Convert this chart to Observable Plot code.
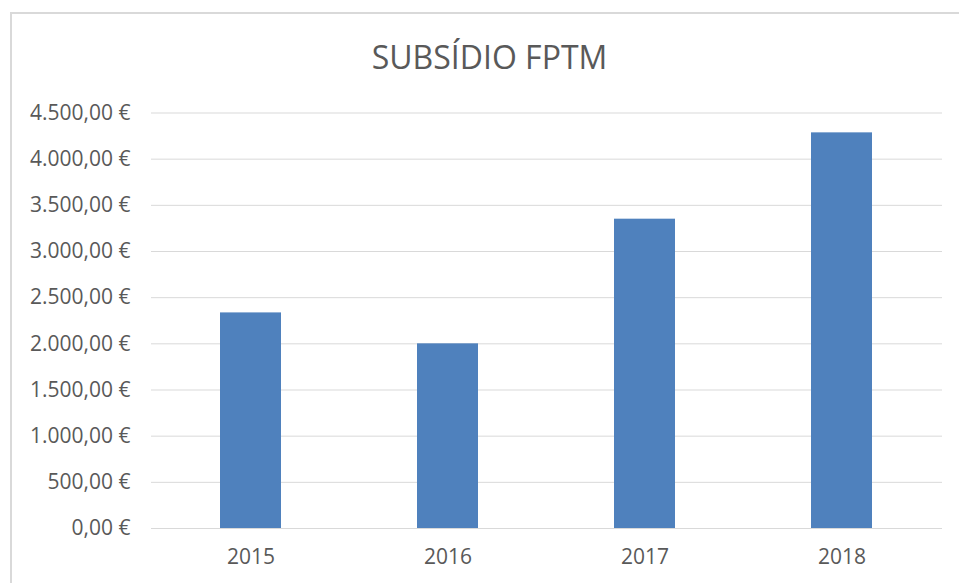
<!DOCTYPE html>
<html>
<head>
<meta charset="utf-8">
<script src="https://cdn.jsdelivr.net/npm/d3@7"></script>
<script src="https://cdn.jsdelivr.net/npm/@observablehq/plot@0.6"></script>
<style>
  html, body { margin: 0; padding: 0; background: #fff; }
  #wrap { position: relative; width: 959px; height: 583px; overflow: hidden; font-family: "Open Sans", sans-serif; }
  #frame { position: absolute; left: 10px; top: 12px; width: 1000px; height: 700px; border-left: 2px solid #d9d9d9; border-top: 2px solid #d9d9d9; box-sizing: border-box; }
  #title { position: relative; height: 95px; box-sizing: border-box; padding-top: 41px; padding-left: 20px; text-align: center; font-size: 32px; line-height: 32px; color: #595959; }
  #chart svg { display: block; }
</style>
</head>
<body>
<div id="wrap">
  <div id="frame"></div>
  <div id="title">SUBSÍDIO FPTM</div>
  <div id="chart"></div>
</div>
<script>
const years = ["2015", "2016", "2017", "2018"];
const values = [2335, 2000, 3350, 4285];
const yTicks = [0, 500, 1000, 1500, 2000, 2500, 3000, 3500, 4000, 4500];

const data = years.map((y, i) => ({year: y, value: values[i]}));
const loc = d3.formatLocale({decimal: ",", thousands: ".", grouping: [3], currency: ["", " €"]});
const num = loc.format(",.2f");
const fmt = d => num(d) + " €";

const chart = Plot.plot({
  width: 959,
  height: 488,
  marginTop: 17.5,
  marginBottom: 55,
  marginLeft: 151,
  marginRight: 17,
  style: {fontFamily: "'Open Sans', sans-serif", fontSize: "21px", color: "#595959", background: "transparent"},
  x: {domain: years, paddingInner: 0.69, paddingOuter: 0.345, label: null},
  y: {domain: [0, 4500], label: null},
  marks: [
    Plot.gridY(yTicks, {stroke: "#d9d9d9", strokeOpacity: 1, strokeWidth: 1}),
    Plot.barY(data, {x: "year", y: "value", fill: "#4f81bd"}),
    Plot.axisY(yTicks, {tickSize: 0, tickPadding: 21, tickFormat: fmt, fontSize: 21, label: null}),
    Plot.axisX({tickSize: 0, tickPadding: 21, fontSize: 21, label: null})
  ]
});
document.getElementById("chart").appendChild(chart);
</script>
</body>
</html>
